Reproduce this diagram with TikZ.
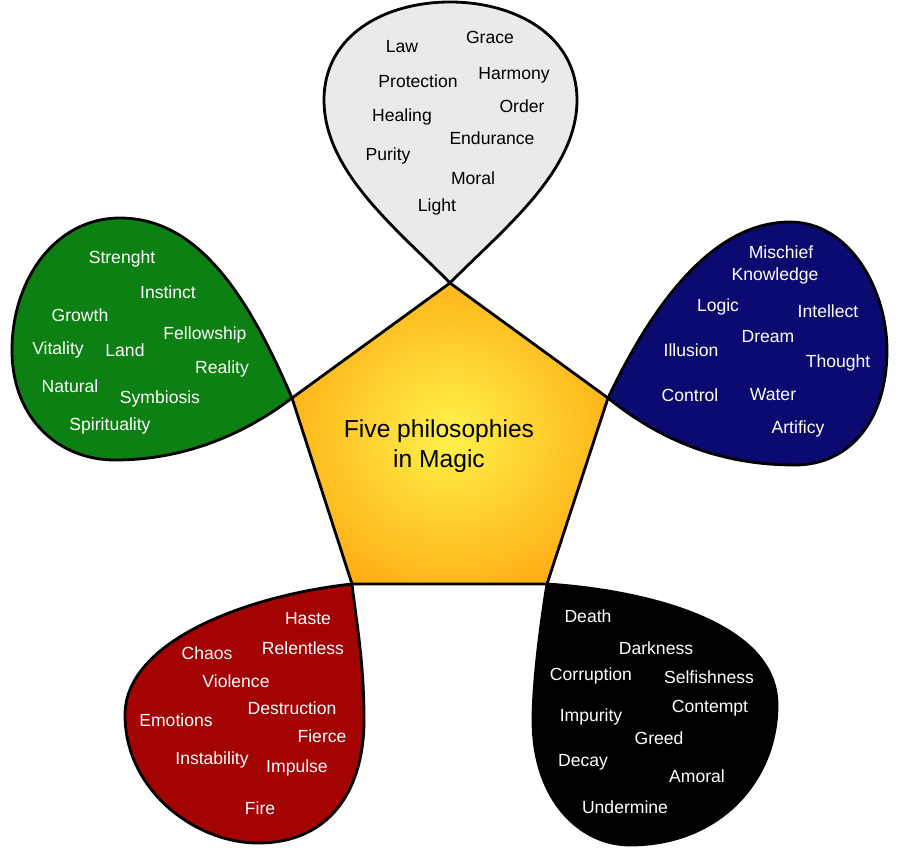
\documentclass[tikz,border=0pt]{standalone}
\usepackage{fontspec}
\setmainfont{Liberation Sans}
\definecolor{petalgray}{RGB}{234,234,234}
\definecolor{petalgreen}{RGB}{12,128,18}
\definecolor{petalblue}{RGB}{10,10,112}
\definecolor{petalred}{RGB}{163,3,3}
\definecolor{pentyellow}{RGB}{255,242,75}
\definecolor{pentorange}{RGB}{255,160,10}
\pgfdeclareradialshading{pentshade}{\pgfpoint{0bp}{0bp}}{color(0bp)=(pentyellow); color(34bp)=(pentorange); color(50bp)=(pentorange)}
\tikzset{
  petal/.style={draw=black, line width=1.6pt, line join=miter},
  word/.style={font=\fontsize{10}{12}\selectfont, inner sep=0pt},
  lightword/.style={word, text=white}
}
\begin{document}
\begin{tikzpicture}[x=0.2mm,y=-0.2mm]
      \useasboundingbox (0,0) rectangle (900,860);
      \coordinate (A) at (450,283);
      \coordinate (B) at (608,398);
      \coordinate (C) at (547,584);
      \coordinate (D) at (352,584);
      \coordinate (E) at (292,398);
      \draw[petal, fill=petalgray] (A) .. controls (398,230) and (324,172) .. (324,100)
        .. controls (324,35) and (385,2) .. (450,2) .. controls (515,2) and (577,35) .. (577,100)
        .. controls (577,172) and (502,230) .. (A);
      \draw[petal, fill=petalgreen] (E) .. controls (250,300) and (200,218) .. (120,218)
        .. controls (55,218) and (12,280) .. (12,350) .. controls (12,420) and (60,460) .. (115,460)
        .. controls (190,460) and (250,430) .. (E);
      \draw[petal, fill=petalblue] (B) .. controls (650,310) and (710,222) .. (790,222)
        .. controls (850,222) and (887,290) .. (887,350) .. controls (887,420) and (850,465) .. (795,465)
        .. controls (720,465) and (660,440) .. (B);
      \draw[petal, fill=petalred] (D) .. controls (250,595) and (125,640) .. (125,715)
        .. controls (125,790) and (195,843) .. (258,843) .. controls (330,843) and (364,790) .. (364,720)
        .. controls (364,660) and (356,620) .. (D);
      \draw[petal, fill=black] (C) .. controls (538,640) and (533,690) .. (533,720)
        .. controls (533,800) and (580,845) .. (630,845) .. controls (720,845) and (777,780) .. (777,705)
        .. controls (777,620) and (640,590) .. (C);
      \draw[petal, shading=pentshade] (A) -- (B) -- (C) -- (D) -- (E) -- cycle;
      \node[align=center, font=\fontsize{14}{17}\selectfont] (title) at (439,446) {Five philosophies\\in Magic};
      \node[word] (law) at (402,47) {Law};
      \node[word] (grace) at (490,37) {Grace};
      \node[word] (protection) at (418,81) {Protection};
      \node[word] (harmony) at (514,75) {Harmony};
      \node[word] (order) at (522,106) {Order};
      \node[word] (healing) at (402,117) {Healing};
      \node[word] (endurance) at (492,138) {Endurance};
      \node[word] (purity) at (388,156) {Purity};
      \node[word] (moral) at (473,178) {Moral};
      \node[word] (light) at (437,207) {Light};
      \node[lightword] (strenght) at (122,259) {Strenght};
      \node[lightword] (instinct) at (168,292) {Instinct};
      \node[lightword] (growth) at (80,315) {Growth};
      \node[lightword] (fellowship) at (205,335) {Fellowship};
      \node[lightword] (vitality) at (58,350) {Vitality};
      \node[lightword] (land) at (125,350) {Land};
      \node[lightword] (reality) at (222,369) {Reality};
      \node[lightword] (natural) at (70,386) {Natural};
      \node[lightword] (symbiosis) at (160,399) {Symbiosis};
      \node[lightword] (spirituality) at (110,426) {Spirituality};
      \node[lightword] (mischief) at (781,252) {Mischief};
      \node[lightword] (knowledge) at (775,276) {Knowledge};
      \node[lightword] (logic) at (718,307) {Logic};
      \node[lightword] (intellect) at (828,311) {Intellect};
      \node[lightword] (dream) at (768,337) {Dream};
      \node[lightword] (illusion) at (691,350) {Illusion};
      \node[lightword] (thought) at (838,363) {Thought};
      \node[lightword] (control) at (690,395) {Control};
      \node[lightword] (water) at (773,395) {Water};
      \node[lightword] (artificy) at (798,429) {Artificy};
      \node[lightword] (haste) at (308,619) {Haste};
      \node[lightword] (chaos) at (207,653) {Chaos};
      \node[lightword] (relentless) at (303,648) {Relentless};
      \node[lightword] (violence) at (236,681) {Violence};
      \node[lightword] (destruction) at (292,708) {Destruction};
      \node[lightword] (emotions) at (176,720) {Emotions};
      \node[lightword] (fierce) at (322,736) {Fierce};
      \node[lightword] (instability) at (212,760) {Instability};
      \node[lightword] (impulse) at (297,768) {Impulse};
      \node[lightword] (fire) at (260,808) {Fire};
      \node[lightword] (death) at (588,616) {Death};
      \node[lightword] (darkness) at (656,648) {Darkness};
      \node[lightword] (corruption) at (591,676) {Corruption};
      \node[lightword] (selfishness) at (709,677) {Selfishness};
      \node[lightword] (contempt) at (710,708) {Contempt};
      \node[lightword] (impurity) at (591,717) {Impurity};
      \node[lightword] (greed) at (659,738) {Greed};
      \node[lightword] (decay) at (583,762) {Decay};
      \node[lightword] (amoral) at (697,776) {Amoral};
      \node[lightword] (undermine) at (625,807) {Undermine};
    \end{tikzpicture}
\end{document}
